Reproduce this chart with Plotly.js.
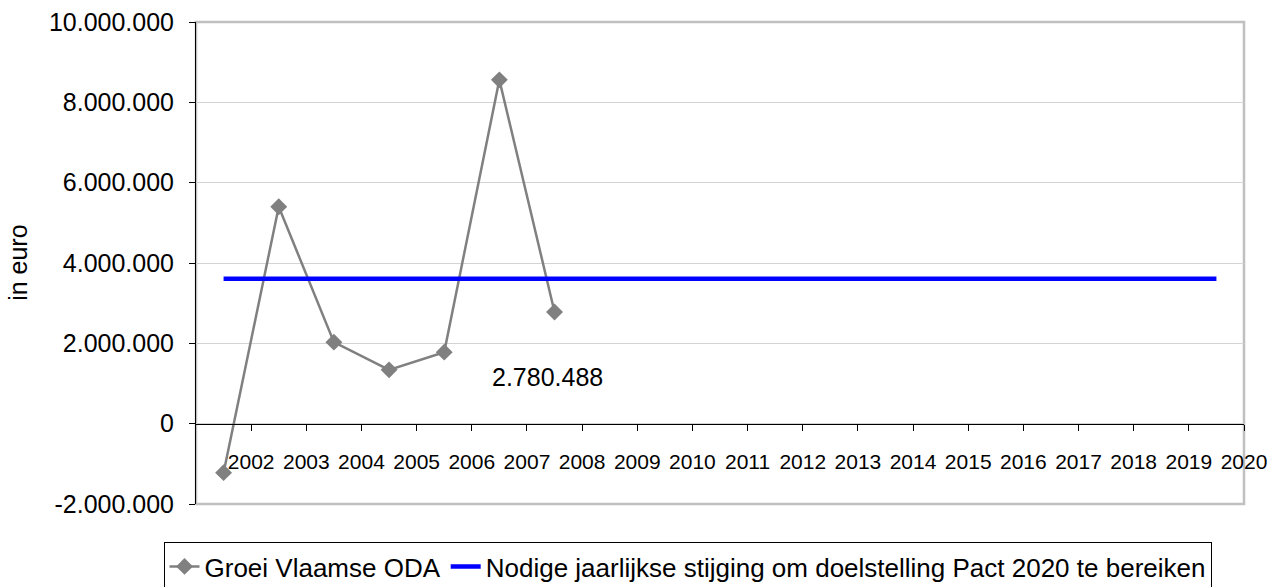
<!DOCTYPE html>
<html>
<head>
<meta charset="utf-8">
<script src="https://cdn.plot.ly/plotly-3.0.1.min.js"></script>
<style>html,body{margin:0;padding:0;background:#fff;}#chart{width:1279px;height:587px;}</style>
</head>
<body>
<div id="chart"></div>
<script>
// Category labels (x axis)
const years = ["2002","2003","2004","2005","2006","2007","2008","2009","2010","2011","2012","2013","2014","2015","2016","2017","2018","2019","2020"];
// Series 1: Groei Vlaamse ODA (first seven categories)
const groeiName = "Groei Vlaamse ODA";
const groeiValues = [-1220000, 5400000, 2030000, 1340000, 1780000, 8560000, 2780488];
// Series 2: Nodige jaarlijkse stijging
const nodigName = "Nodige jaarlijkse stijging om doelstelling Pact 2020 te bereiken";
const nodigValues = [3610000, 3610000, 3610000, 3610000, 3610000, 3610000, 3610000, 3610000, 3610000, 3610000, 3610000, 3610000, 3610000, 3610000, 3610000, 3610000, 3610000, 3610000, 3610000];
// Y tick labels
const yTickVals = [-2000000, 0, 2000000, 4000000, 6000000, 8000000, 10000000];
const yTickText = ["-2.000.000", "0", "2.000.000", "4.000.000", "6.000.000", "8.000.000", "10.000.000"];
const lastLabel = "2.780.488";

const FONT = "Liberation Sans, Arial, sans-serif";
const idx = years.map((y, i) => i);

const traces = [
  {
    x: groeiValues.map((v, i) => i),
    y: groeiValues,
    name: groeiName,
    type: "scatter",
    mode: "lines+markers",
    line: {color: "#808080", width: 2.5},
    marker: {symbol: "diamond", size: 13, color: "#808080"},
    xaxis: "x", yaxis: "y"
  },
  {
    x: idx,
    y: nodigValues,
    name: nodigName,
    type: "scatter",
    mode: "lines",
    line: {color: "#0000ff", width: 4.5},
    xaxis: "x", yaxis: "y"
  }
];

const yMin = yTickVals[0], yMax = yTickVals[yTickVals.length - 1];

const layout = {
  width: 1279, height: 587,
  margin: {l: 196, r: 35, t: 22, b: 83, pad: 0, autoexpand: false},
  paper_bgcolor: "#ffffff",
  plot_bgcolor: "#ffffff",
  font: {family: FONT, color: "#000000", size: 25},
  showlegend: true,
  xaxis: {
    range: [-0.5, years.length - 0.5],
    tickvals: idx.map(i => i + 0.5),
    ticktext: years,
    showgrid: false,
    zeroline: false,
    showline: true,
    linecolor: "#000000",
    linewidth: 1,
    ticks: "outside",
    ticklen: 6,
    tickcolor: "#000000",
    tickfont: {family: FONT, size: 21, color: "#000000"},
    ticklabelstandoff: 13,
    anchor: "free",
    position: (0 - yMin) / (yMax - yMin),
    automargin: false,
    fixedrange: true
  },
  yaxis: {
    range: [yMin, yMax],
    tickvals: yTickVals,
    ticktext: yTickText,
    showgrid: true,
    gridcolor: "#d4d4d4",
    gridwidth: 1,
    zeroline: false,
    showline: true,
    linecolor: "#000000",
    linewidth: 1,
    ticks: "outside",
    ticklen: 6,
    tickcolor: "#000000",
    tickfont: {family: FONT, size: 25, color: "#000000"},
    ticklabelstandoff: 10,
    automargin: false,
    fixedrange: true
  },
  shapes: [
    {type: "rect", xref: "paper", yref: "paper", x0: 0, x1: 1, y0: 0, y1: 1,
     line: {color: "#c0c0c0", width: 2.5}, fillcolor: "rgba(0,0,0,0)", layer: "below"}
  ],
  annotations: [
    {x: groeiValues.length - 1, y: groeiValues[groeiValues.length - 1], xref: "x", yref: "y",
     text: lastLabel, showarrow: false, xshift: -7, yshift: -65,
     font: {family: FONT, size: 25, color: "#000000"}},
    {x: -0.17, y: 0.5, xref: "paper", yref: "paper", text: "in euro", textangle: -90,
     showarrow: false, xanchor: "center", yanchor: "middle",
     font: {family: FONT, size: 25, color: "#000000"}}
  ],
  legend: {
    orientation: "h",
    x: 0.469, xanchor: "center",
    y: -0.0788, yanchor: "top",
    bgcolor: "#ffffff",
    bordercolor: "#000000",
    borderwidth: 1,
    font: {family: FONT, size: 26, color: "#000000"},
    itemclick: false, itemdoubleclick: false
  }
};

Plotly.newPlot("chart", traces, layout, {displayModeBar: false, staticPlot: true});
</script>
</body>
</html>
